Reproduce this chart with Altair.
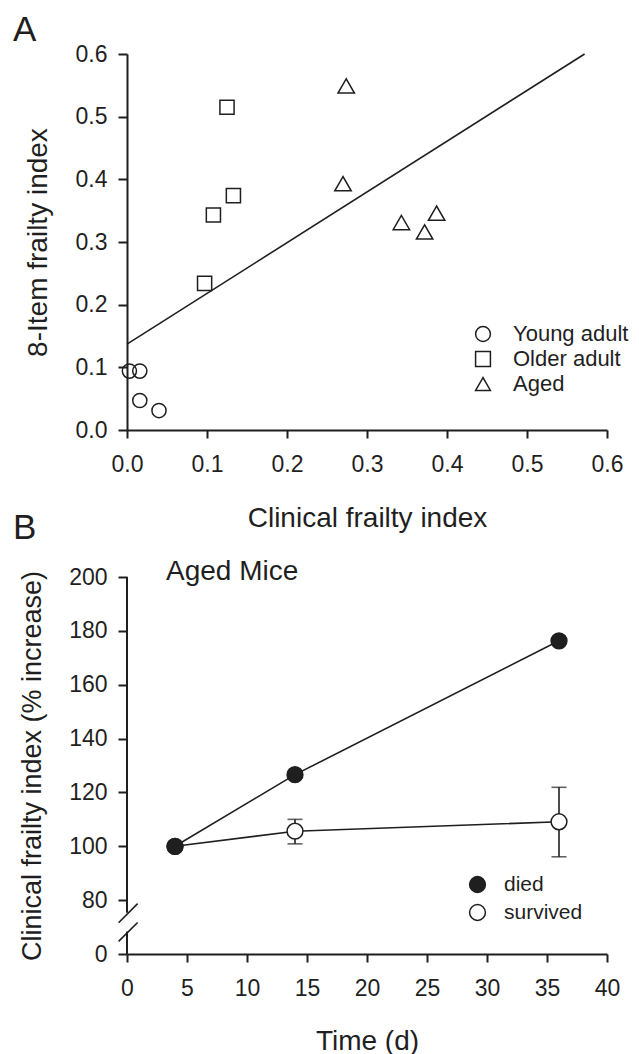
import altair as alt
import pandas as pd

FONT = "Liberation Sans"
INK = "#1f1f1f"

# ---------------- Panel A data ----------------
groups = ["Young adult", "Older adult", "Aged"]
young_x = [0.003, 0.016, 0.016, 0.040]
young_y = [0.094, 0.094, 0.047, 0.031]
older_x = [0.097, 0.108, 0.125, 0.133]
older_y = [0.234, 0.343, 0.515, 0.374]
aged_x = [0.274, 0.270, 0.343, 0.372, 0.387]
aged_y = [0.549, 0.393, 0.331, 0.316, 0.346]
fit_x = [0.0, 0.572]
fit_y = [0.137, 0.600]
ticks_a = [0.0, 0.1, 0.2, 0.3, 0.4, 0.5, 0.6]
panel_letters = ["A", "B"]

# ---------------- Panel B data ----------------
statuses = ["died", "survived"]
days = [4, 14, 36]
died_pct = [100.0, 126.6, 176.3]
survived_pct = [100.0, 105.6, 109.1]
err_days = [14, 36]
survived_lo = [100.9, 96.1]
survived_hi = [110.0, 121.9]
ticks_x_b = [0, 5, 10, 15, 20, 25, 30, 35, 40]
ticks_y_b = [60, 80, 100, 120, 140, 160, 180, 200]   # 60 is shown as "0" below the axis break
axis_seg_start = [60, 75.3]
axis_seg_end = [68.4, 200]
break_start = [64.7, 71.6]
break_end = [71.7, 78.7]
annotation_b = ["Aged Mice"]

# ---------------- Panel A ----------------
df_a = pd.DataFrame({
    "x": young_x + older_x + aged_x,
    "y": young_y + older_y + aged_y,
    "group": [groups[0]] * len(young_x) + [groups[1]] * len(older_x) + [groups[2]] * len(aged_x),
})
df_fit = pd.DataFrame({"x": fit_x, "y": fit_y})

x_a = alt.X("x:Q", scale=alt.Scale(domain=[0, 0.6], nice=False, zero=False),
            axis=alt.Axis(title="Clinical frailty index", values=ticks_a, format=".1f",
                          tickSize=8, labelPadding=15, titleY=88, titleBaseline="middle"))
y_a = alt.Y("y:Q", scale=alt.Scale(domain=[0, 0.6], nice=False, zero=False),
            axis=alt.Axis(title="8-Item frailty index", values=ticks_a, format=".1f",
                          tickSize=9, labelPadding=11, titleX=-89, titleBaseline="middle"))

legend_a = alt.Legend(title=None, orient="none", legendX=345, legendY=269,
                      labelFontSize=22, symbolSize=220, symbolStrokeWidth=1.5,
                      symbolStrokeColor=INK, labelOffset=19, rowPadding=3)
shape_a = alt.Shape("group:N", scale=alt.Scale(domain=groups, range=["circle", "square", "triangle-up"]),
                    legend=legend_a)

sizes = {groups[0]: 200, groups[1]: 200, groups[2]: 270}
pts_layers = [
    alt.Chart(df_a).transform_filter(alt.datum.group == g)
    .mark_point(filled=False, strokeWidth=1.5, color=INK, opacity=1, size=sizes[g])
    .encode(x=x_a, y=y_a, shape=shape_a)
    for g in groups
]
fit_line = alt.Chart(df_fit).mark_line(color=INK, strokeWidth=1.6).encode(x=x_a, y=y_a)

letter_a = alt.Chart(pd.DataFrame({"t": [panel_letters[0]]})).mark_text(
    align="left", baseline="middle", fontSize=35, color=INK, font=FONT
).encode(x=alt.value(-114), y=alt.value(-24), text="t:N")
letter_b = alt.Chart(pd.DataFrame({"t": [panel_letters[1]]})).mark_text(
    align="left", baseline="middle", fontSize=35, color=INK, font=FONT
).encode(x=alt.value(-114), y=alt.value(474), text="t:N")

panel_a = alt.layer(fit_line, *pts_layers, letter_a, letter_b).properties(width=480, height=376)

# ---------------- Panel B ----------------
df_b = pd.DataFrame({
    "day": days * 2,
    "pct": survived_pct + died_pct,
    "status": [statuses[1]] * len(days) + [statuses[0]] * len(days),
})
df_err = pd.DataFrame({"day": err_days, "pct": survived_lo, "pct_end": survived_hi})
df_caps = pd.DataFrame({"day": err_days * 2, "pct": survived_lo + survived_hi})
df_axis = pd.DataFrame({"pct": axis_seg_start, "pct_end": axis_seg_end})
df_break = pd.DataFrame({"pct": break_start, "pct_end": break_end})

y_axis_b = alt.Axis(title="Clinical frailty index (% increase)", values=ticks_y_b,
                    labelExpr="datum.value == 60 ? '0' : datum.label", domain=False,
                    tickSize=9, labelPadding=11, titleX=-95, titleBaseline="middle",
                    titleFontSize=27)
y_scale_b = alt.Scale(domain=[60, 200], nice=False, zero=False)
x_b = alt.X("day:Q", scale=alt.Scale(domain=[0, 40], nice=False, zero=False),
            axis=alt.Axis(title="Time (d)", values=ticks_x_b, format="d",
                          tickSize=8, labelPadding=15, titleY=87, titleBaseline="middle"))
y_b = alt.Y("pct:Q", scale=y_scale_b, axis=y_axis_b)

lines_b = alt.Chart(df_b).mark_line(color=INK, strokeWidth=1.6).encode(
    x=x_b, y=y_b, detail="status:N")
err_b = alt.Chart(df_err).mark_rule(color=INK, strokeWidth=1.6).encode(
    x=x_b, y=y_b, y2="pct_end:Q")
caps_b = alt.Chart(df_caps).mark_tick(color=INK, orient="horizontal", size=15, thickness=1.6).encode(
    x=x_b, y=y_b)
pts_b = alt.Chart(df_b).mark_point(filled=True, stroke=INK, strokeWidth=1.5, size=250, opacity=1,
                                   shape="circle").encode(
    x=x_b, y=y_b,
    color=alt.Color("status:N", scale=alt.Scale(domain=statuses, range=[INK, "white"]),
                    legend=alt.Legend(title=None, orient="none", legendX=340, legendY=297,
                                      labelFontSize=21, symbolType="circle", symbolSize=250,
                                      symbolStrokeColor=INK, symbolStrokeWidth=1.5,
                                      labelOffset=16, rowPadding=5)),
)
axis_line_b = alt.Chart(df_axis).mark_rule(color=INK, strokeWidth=2).encode(
    x=alt.value(0), y=y_b, y2="pct_end:Q")
break_b = alt.Chart(df_break).mark_rule(color=INK, strokeWidth=1.6).encode(
    x=alt.value(-8.4), x2=alt.value(10.6), y=y_b, y2="pct_end:Q")
label_b = alt.Chart(pd.DataFrame({"t": annotation_b})).mark_text(
    align="left", baseline="middle", fontSize=28, color=INK, font=FONT
).encode(x=alt.value(39), y=alt.value(-5), text="t:N")

panel_b = alt.layer(axis_line_b, break_b, lines_b, err_b, caps_b, pts_b, label_b).properties(
    width=480, height=377)

chart = alt.vconcat(panel_a, panel_b, spacing=12).resolve_scale(
    color="independent", shape="independent"
).resolve_legend(
    color="independent", shape="independent"
).properties(
    padding={"left": 5, "top": 5, "right": 0, "bottom": 0},
    background="white",
).configure_view(stroke=None).configure_axis(
    grid=False, labelFont=FONT, titleFont=FONT, labelFontSize=23, titleFontSize=28,
    labelColor=INK, titleColor=INK, domainColor=INK, tickColor=INK, domainWidth=2,
    tickWidth=2, titleFontWeight="normal", labelFlush=False, labelOverlap=False,
).configure_legend(labelFont=FONT, labelColor=INK)

chart.save("out.html", embed_options={"renderer": "svg", "actions": False})
